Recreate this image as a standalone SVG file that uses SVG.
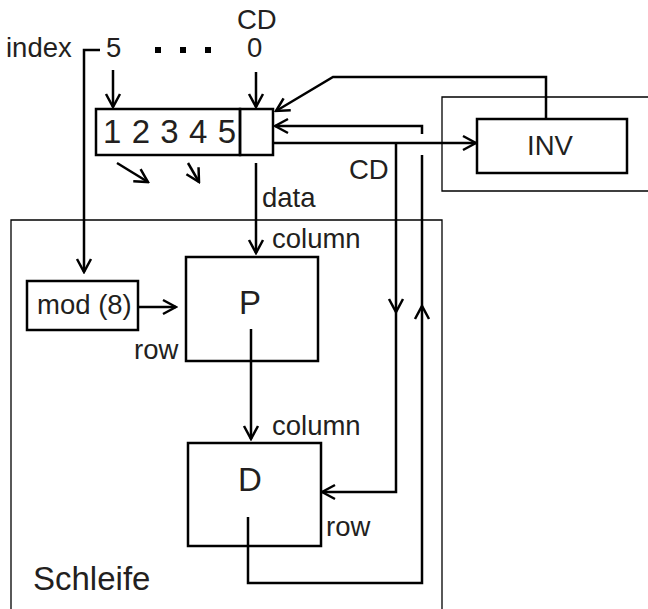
<svg xmlns="http://www.w3.org/2000/svg" width="648" height="609" viewBox="0 0 648 609">
<style>
  .t { font-family: "Liberation Sans", Arial, sans-serif; fill: #231f20; font-size: 27.5px; }
  .big { font-size: 33px; }
  .box { fill: none; stroke: #000; stroke-width: 2.5; }
  .frame { fill: none; stroke: #000; stroke-width: 1.3; }
  .c { fill: none; stroke: #000; stroke-width: 2.5; }
  .ah { fill: none; stroke: #000; stroke-width: 2.5; }
</style>
<defs>
  <marker id="arr" viewBox="-15 -9 17 18" refX="0" refY="0" markerWidth="17" markerHeight="18" markerUnits="userSpaceOnUse" orient="auto">
    <path d="M -13 -7 L 0 0 L -13 7" fill="none" stroke="#000" stroke-width="2.5"/>
  </marker>
</defs>

<g id="frames">
  <path id="schleife-frame" class="frame" d="M 11 609 L 11 220 L 442 220 L 442 609"/>
  <path id="inv-frame" class="frame" d="M 648 97 L 442 97 L 442 191 L 648 191"/>
</g>

<g id="register">
  <rect class="box" x="96" y="109" width="144" height="46"/>
  <text class="t big" x="103" y="143" textLength="133" lengthAdjust="spacing">1 2 3 4 5</text>
</g>
<g id="cd-cell">
  <rect class="box" x="240" y="109" width="33" height="46"/>
</g>
<g id="inv">
  <rect class="box" x="477" y="119" width="150" height="54"/>
  <text class="t" x="550" y="155" text-anchor="middle" font-size="28">INV</text>
</g>
<g id="mod">
  <rect class="box" x="27" y="281" width="111" height="49"/>
  <text class="t" x="37" y="314">mod (8)</text>
</g>
<g id="P">
  <rect class="box" x="186" y="257" width="132" height="104"/>
  <text class="t big" x="250" y="314" text-anchor="middle">P</text>
</g>
<g id="D">
  <rect class="box" x="188" y="443" width="133" height="103"/>
  <text class="t big" x="250" y="491" text-anchor="middle">D</text>
</g>

<g id="labels">
  <text class="t" x="237" y="29">CD</text>
  <text class="t" x="6" y="57">index</text>
  <text class="t" x="106" y="57">5</text>
  <text class="t" x="247" y="57">0</text>
  <rect x="155" y="47" width="6" height="6" fill="#000"/>
  <rect x="180" y="47" width="6" height="6" fill="#000"/>
  <rect x="205" y="47" width="6" height="6" fill="#000"/>
  <text class="t" x="262" y="207">data</text>
  <text class="t" x="349" y="179">CD</text>
  <text class="t" x="272" y="248">column</text>
  <text class="t" x="134" y="359">row</text>
  <text class="t" x="272" y="435">column</text>
  <text class="t" x="326" y="536">row</text>
  <text class="t big" x="33" y="590">Schleife</text>
</g>

<g id="connectors">
  <polyline class="c" points="100,50 84,50 84,272" marker-end="url(#arr)"/>
  <line class="c" x1="113" y1="70" x2="113" y2="107" marker-end="url(#arr)"/>
  <line class="c" x1="256" y1="72" x2="256" y2="107" marker-end="url(#arr)"/>
  <line class="c" x1="117" y1="163" x2="148" y2="182" marker-end="url(#arr)"/>
  <line class="c" x1="188" y1="163" x2="199" y2="182" marker-end="url(#arr)"/>
  <polyline class="c" points="546,120 546,77 333,77 276,111" marker-end="url(#arr)"/>
  <polyline class="c" points="248,517 248,583 422,583 422,155"/>
  <polyline class="c" points="422,134 422,126 275,126" marker-end="url(#arr)"/>
  <path class="ah" d="M 415 319 L 422 306 L 429 319"/>
  <line class="c" x1="273" y1="143" x2="476" y2="143" marker-end="url(#arr)"/>
  <polyline class="c" points="396,143 396,492 322,492" marker-end="url(#arr)"/>
  <path class="ah" d="M 389 299 L 396 312 L 403 299"/>
  <line class="c" x1="256" y1="163" x2="256" y2="253" marker-end="url(#arr)"/>
  <line class="c" x1="138" y1="307" x2="176" y2="307" marker-end="url(#arr)"/>
  <line class="c" x1="251" y1="329" x2="251" y2="439" marker-end="url(#arr)"/>
</g>
</svg>
